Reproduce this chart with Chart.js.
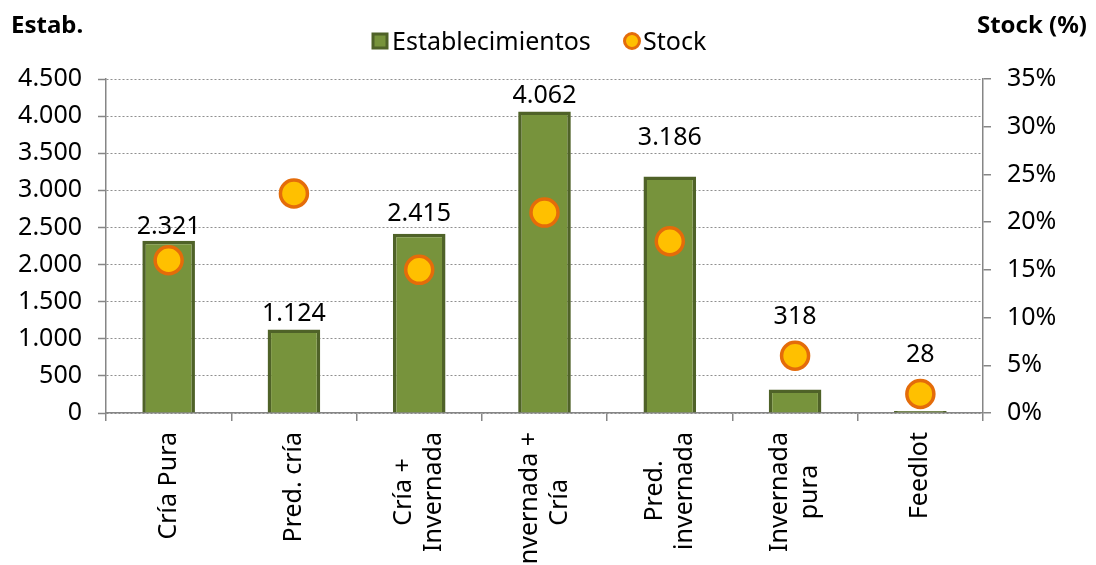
<!DOCTYPE html>
<html lang="es">
<head>
<meta charset="utf-8">
<title>Establecimientos y stock</title>
<script src="https://cdn.jsdelivr.net/npm/chart.js@4"></script>
<style>
    html, body { margin: 0; padding: 0; background: #fff; }
    #chart { display: block; }
</style>
</head>
<body>
<canvas id="chart" width="1096" height="565"></canvas>
<script>
const categorias = [
    'Cría Pura',
    'Pred. cría',
    ['Cría +', 'Invernada'],
    ['Invernada +', 'Cría'],
    ['Pred.', 'invernada'],
    ['Invernada', 'pura'],
    'Feedlot'
];
const establecimientos = [2321, 1124, 2415, 4062, 3186, 318, 28];
const stockPct = [16, 23, 15, 21, 18, 6, 2];

const FONT = '"Noto Sans", "Open Sans", sans-serif';
const VERDE = '#77933C';
const VERDE_BORDE = '#4F6228';
const NARANJA = '#FFC000';
const NARANJA_BORDE = '#E46C0A';
const GRIS = '#868686';

// extra lift of some value labels, as placed in the original
const elevarEtiqueta = [-2, 0, 4, 0, 23, 0, 0];

const fmt = n => String(n).replace(/\B(?=(\d{3})+(?!\d))/g, '.');

document.addEventListener('DOMContentLoaded', () => {
    const ctx = document.getElementById('chart').getContext('2d');

    const extras = {
        id: 'extras',
        afterDatasetsDraw(chart) {
            const c = chart.ctx;
            const barras = chart.getDatasetMeta(0).data;
            const puntos = chart.getDatasetMeta(1).data;
            c.save();
            c.font = `25px ${FONT}`;
            c.fillStyle = '#000';
            c.textAlign = 'center';
            c.textBaseline = 'alphabetic';
            barras.forEach((bar, i) => {
                const p = puntos[i];
                // dot just above the bar top would hide the label: go over the dot
                const choca = p.y < bar.y && p.y > bar.y - 45;
                const y = choca ? p.y - 32 : bar.y - 9 - elevarEtiqueta[i];
                c.fillText(fmt(establecimientos[i]), bar.x, y);
            });
            c.restore();
        },
        afterDraw(chart) {
            const c = chart.ctx;
            c.save();

            // category labels: rotated, block ends near the axis, lines centred
            const xs = chart.scales.x;
            const top = xs.top + 19;
            const lh = 30;
            c.font = `25px ${FONT}`;
            c.fillStyle = '#000';
            c.textBaseline = 'middle';
            c.textAlign = 'center';
            categorias.forEach((cat, i) => {
                const lines = Array.isArray(cat) ? cat : [cat];
                const w = Math.max(...lines.map(l => c.measureText(l).width));
                const x = xs.getPixelForTick(i);
                c.save();
                c.translate(x, top + w / 2);
                c.rotate(-Math.PI / 2);
                lines.forEach((l, j) => {
                    c.fillText(l, 0, (j - (lines.length - 1) / 2) * lh);
                });
                c.restore();
            });

            c.font = `bold 24px ${FONT}`;
            c.textBaseline = 'alphabetic';
            c.textAlign = 'left';
            c.fillText('Estab.', 11, 33);
            c.textAlign = 'right';
            c.fillText('Stock (%)', 1087, 33);

            // legend
            c.fillStyle = VERDE;
            c.strokeStyle = VERDE_BORDE;
            c.lineWidth = 3;
            c.fillRect(373, 34, 14, 14);
            c.strokeRect(373, 34, 14, 14);
            c.fillStyle = '#000';
            c.font = `25px ${FONT}`;
            c.textAlign = 'left';
            c.fillText('Establecimientos', 392, 50);

            c.beginPath();
            c.arc(632, 41, 7.5, 0, Math.PI * 2);
            c.fillStyle = NARANJA;
            c.fill();
            c.strokeStyle = NARANJA_BORDE;
            c.lineWidth = 3;
            c.stroke();
            c.fillStyle = '#000';
            c.fillText('Stock', 643, 50);
            c.restore();
        }
    };

    new Chart(ctx, {
        data: {
            labels: categorias,
            datasets: [
                {
                    type: 'bar',
                    label: 'Establecimientos',
                    data: establecimientos,
                    backgroundColor: VERDE,
                    borderColor: VERDE_BORDE,
                    borderWidth: 3.5,
                    barPercentage: 0.42,
                    categoryPercentage: 1,
                    yAxisID: 'y',
                    order: 2
                },
                {
                    type: 'line',
                    label: 'Stock',
                    data: stockPct,
                    showLine: false,
                    pointRadius: 13.5,
                    pointBorderWidth: 3.5,
                    pointBackgroundColor: NARANJA,
                    pointBorderColor: NARANJA_BORDE,
                    yAxisID: 'y1',
                    order: 1
                }
            ]
        },
        options: {
            responsive: false,
            animation: false,
            devicePixelRatio: 1,
            layout: { padding: { top: 79, left: 0, right: 0, bottom: 0 } },
            plugins: {
                legend: { display: false },
                tooltip: { enabled: false }
            },
            scales: {
                x: {
                    grid: {
                        offset: true,
                        drawOnChartArea: false,
                        color: GRIS,
                        lineWidth: 1.5,
                        tickLength: 8
                    },
                    border: { color: GRIS, width: 1.5 },
                    ticks: { display: false },
                    afterFit: scale => { scale.height = 152; }
                },
                y: {
                    position: 'left',
                    min: 0,
                    max: 4500,
                    grid: {
                        color: '#8f8f8f',
                        lineWidth: 1,
                        tickLength: 8,
                        tickColor: GRIS,
                        tickWidth: 1.5
                    },
                    border: { color: GRIS, width: 1.5, dash: [2, 2] },
                    ticks: {
                        stepSize: 500,
                        padding: 16,
                        color: '#000',
                        font: { family: FONT, size: 25 },
                        callback: v => fmt(v)
                    },
                    afterFit: scale => { scale.width = 106; }
                },
                y1: {
                    position: 'right',
                    min: 0,
                    max: 35,
                    grid: {
                        drawOnChartArea: false,
                        color: GRIS,
                        lineWidth: 1.5,
                        tickLength: 8
                    },
                    border: { color: GRIS, width: 1.5 },
                    ticks: {
                        stepSize: 5,
                        padding: 16,
                        color: '#000',
                        font: { family: FONT, size: 25 },
                        callback: v => v + '%'
                    },
                    afterFit: scale => { scale.width = 113; }
                }
            }
        },
        plugins: [extras]
    });
});
</script>
</body>
</html>
